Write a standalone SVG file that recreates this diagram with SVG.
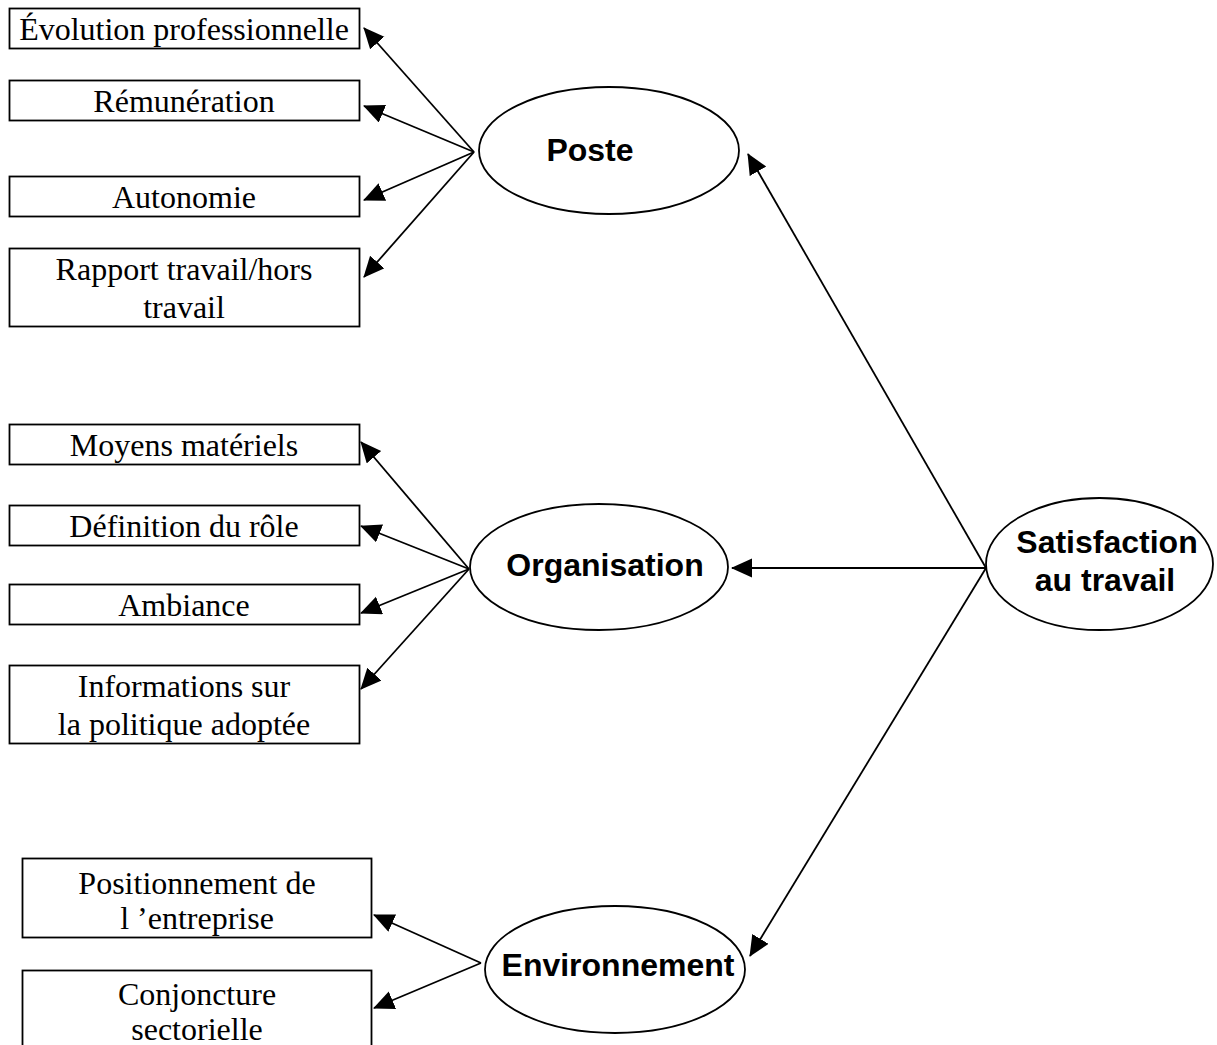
<svg xmlns="http://www.w3.org/2000/svg" width="1217" height="1045" viewBox="0 0 1217 1045">
<style>
.box{fill:#fff;stroke:#000;stroke-width:1.8}
.ell{fill:#fff;stroke:#000;stroke-width:1.8}
.t{font-family:"Liberation Serif","Times New Roman",serif;font-size:32px;fill:#000;text-anchor:middle}
.b{font-family:"Liberation Sans",Arial,sans-serif;font-size:32px;font-weight:bold;fill:#000;text-anchor:middle}
.c{fill:none;stroke:#000;stroke-width:1.8;marker-end:url(#ah)}
</style>
<defs>
<marker id="ah" markerUnits="userSpaceOnUse" markerWidth="22" markerHeight="20" refX="20" refY="9.5" orient="auto">
<path d="M0,0 L21,9.5 L0,19 z" fill="#000"/>
</marker>
</defs>
<rect width="1217" height="1045" fill="#fff"/>
<g id="connectors">
<path class="c" d="M474,152 L364,28"/>
<path class="c" d="M474,152 L364,106"/>
<path class="c" d="M474,152 L364,200"/>
<path class="c" d="M474,152 L364,277"/>
<path class="c" d="M469,569 L361,442"/>
<path class="c" d="M469,569 L361,526"/>
<path class="c" d="M469,569 L361,613"/>
<path class="c" d="M469,569 L361,689"/>
<path class="c" d="M481,963 L374,915"/>
<path class="c" d="M481,963 L374,1008"/>
<path class="c" d="M986,568 L748,154"/>
<path class="c" d="M986,568 L732,568"/>
<path class="c" d="M986,568 L750,956"/>
</g>
<g id="evolution"><rect class="box" x="9.5" y="8.5" width="350" height="40"/><text class="t" x="184" y="40">Évolution professionnelle</text></g>
<g id="remuneration"><rect class="box" x="9.5" y="80.5" width="350" height="40"/><text class="t" x="184" y="112">Rémunération</text></g>
<g id="autonomie"><rect class="box" x="9.5" y="176.5" width="350" height="40"/><text class="t" x="184" y="208">Autonomie</text></g>
<g id="rapport"><rect class="box" x="9.5" y="248.5" width="350" height="78"/><text class="t" x="184" y="280">Rapport travail/hors</text><text class="t" x="184" y="318">travail</text></g>
<g id="moyens"><rect class="box" x="9.5" y="424.5" width="350" height="40"/><text class="t" x="184" y="456">Moyens matériels</text></g>
<g id="definition"><rect class="box" x="9.5" y="505.5" width="350" height="40"/><text class="t" x="184" y="537">Définition du rôle</text></g>
<g id="ambiance"><rect class="box" x="9.5" y="584.5" width="350" height="40"/><text class="t" x="184" y="616">Ambiance</text></g>
<g id="informations"><rect class="box" x="9.5" y="665.5" width="350" height="78"/><text class="t" x="184" y="697">Informations sur</text><text class="t" x="184" y="735">la politique adoptée</text></g>
<g id="positionnement"><rect class="box" x="22.5" y="858.5" width="349" height="79"/><text class="t" x="197" y="894">Positionnement de</text><text class="t" x="197" y="929">l ’entreprise</text></g>
<g id="conjoncture"><rect class="box" x="22.5" y="970.5" width="349" height="90"/><text class="t" x="197" y="1005">Conjoncture</text><text class="t" x="197" y="1040">sectorielle</text></g>
<g id="poste"><ellipse class="ell" cx="609" cy="150.5" rx="130" ry="63.5"/><text class="b" x="590" y="161">Poste</text></g>
<g id="organisation"><ellipse class="ell" cx="599" cy="567" rx="129" ry="63"/><text class="b" x="605" y="576">Organisation</text></g>
<g id="environnement"><ellipse class="ell" cx="615" cy="969.5" rx="130" ry="63.5"/><text class="b" x="618" y="976">Environnement</text></g>
<g id="satisfaction"><ellipse class="ell" cx="1099.5" cy="564" rx="113.5" ry="66"/><text class="b" x="1107" y="553">Satisfaction</text><text class="b" x="1105" y="591">au travail</text></g>
</svg>
